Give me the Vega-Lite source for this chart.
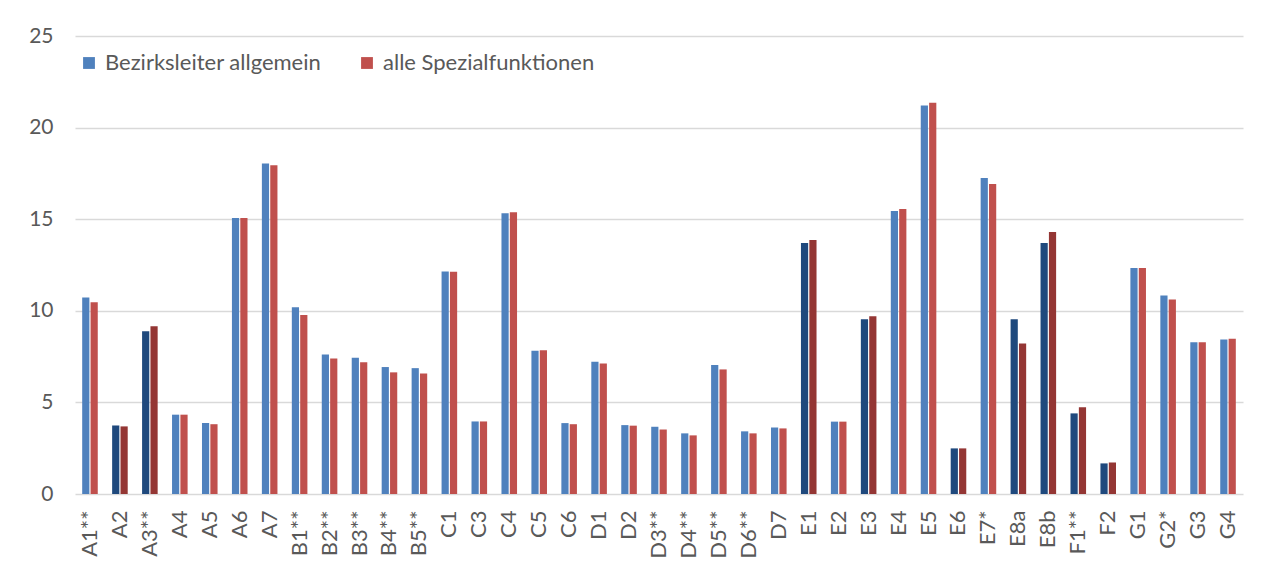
{
  "$schema": "https://vega.github.io/schema/vega-lite/v6.json",
  "autosize": {"type": "none"},
  "width": 1168,
  "height": 458,
  "padding": {"left": 75, "top": 36, "right": 27, "bottom": 94},
  "background": "white",
  "config": {
    "font": "Lato",
    "view": {"stroke": null},
    "axis": {"labelFont": "Lato", "labelColor": "#595959", "labelFontSize": 22}
  },
  "data": {
    "values": [
      {"kat": "A1**", "reihe": "Bezirksleiter allgemein", "farbe": "Bezirksleiter allgemein", "wert": 10.72},
      {"kat": "A1**", "reihe": "alle Spezialfunktionen", "farbe": "alle Spezialfunktionen", "wert": 10.46},
      {"kat": "A2", "reihe": "Bezirksleiter allgemein", "farbe": "Bezirksleiter allgemein (dunkel)", "wert": 3.74},
      {"kat": "A2", "reihe": "alle Spezialfunktionen", "farbe": "alle Spezialfunktionen (dunkel)", "wert": 3.69},
      {"kat": "A3**", "reihe": "Bezirksleiter allgemein", "farbe": "Bezirksleiter allgemein (dunkel)", "wert": 8.88},
      {"kat": "A3**", "reihe": "alle Spezialfunktionen", "farbe": "alle Spezialfunktionen (dunkel)", "wert": 9.15},
      {"kat": "A4", "reihe": "Bezirksleiter allgemein", "farbe": "Bezirksleiter allgemein", "wert": 4.33},
      {"kat": "A4", "reihe": "alle Spezialfunktionen", "farbe": "alle Spezialfunktionen", "wert": 4.33},
      {"kat": "A5", "reihe": "Bezirksleiter allgemein", "farbe": "Bezirksleiter allgemein", "wert": 3.87},
      {"kat": "A5", "reihe": "alle Spezialfunktionen", "farbe": "alle Spezialfunktionen", "wert": 3.81},
      {"kat": "A6", "reihe": "Bezirksleiter allgemein", "farbe": "Bezirksleiter allgemein", "wert": 15.07},
      {"kat": "A6", "reihe": "alle Spezialfunktionen", "farbe": "alle Spezialfunktionen", "wert": 15.06},
      {"kat": "A7", "reihe": "Bezirksleiter allgemein", "farbe": "Bezirksleiter allgemein", "wert": 18.04},
      {"kat": "A7", "reihe": "alle Spezialfunktionen", "farbe": "alle Spezialfunktionen", "wert": 17.95},
      {"kat": "B1**", "reihe": "Bezirksleiter allgemein", "farbe": "Bezirksleiter allgemein", "wert": 10.19},
      {"kat": "B1**", "reihe": "alle Spezialfunktionen", "farbe": "alle Spezialfunktionen", "wert": 9.77},
      {"kat": "B2**", "reihe": "Bezirksleiter allgemein", "farbe": "Bezirksleiter allgemein", "wert": 7.62},
      {"kat": "B2**", "reihe": "alle Spezialfunktionen", "farbe": "alle Spezialfunktionen", "wert": 7.39},
      {"kat": "B3**", "reihe": "Bezirksleiter allgemein", "farbe": "Bezirksleiter allgemein", "wert": 7.44},
      {"kat": "B3**", "reihe": "alle Spezialfunktionen", "farbe": "alle Spezialfunktionen", "wert": 7.19},
      {"kat": "B4**", "reihe": "Bezirksleiter allgemein", "farbe": "Bezirksleiter allgemein", "wert": 6.93},
      {"kat": "B4**", "reihe": "alle Spezialfunktionen", "farbe": "alle Spezialfunktionen", "wert": 6.64},
      {"kat": "B5**", "reihe": "Bezirksleiter allgemein", "farbe": "Bezirksleiter allgemein", "wert": 6.87},
      {"kat": "B5**", "reihe": "alle Spezialfunktionen", "farbe": "alle Spezialfunktionen", "wert": 6.58},
      {"kat": "C1", "reihe": "Bezirksleiter allgemein", "farbe": "Bezirksleiter allgemein", "wert": 12.14},
      {"kat": "C1", "reihe": "alle Spezialfunktionen", "farbe": "alle Spezialfunktionen", "wert": 12.13},
      {"kat": "C3", "reihe": "Bezirksleiter allgemein", "farbe": "Bezirksleiter allgemein", "wert": 3.96},
      {"kat": "C3", "reihe": "alle Spezialfunktionen", "farbe": "alle Spezialfunktionen", "wert": 3.96},
      {"kat": "C4", "reihe": "Bezirksleiter allgemein", "farbe": "Bezirksleiter allgemein", "wert": 15.33},
      {"kat": "C4", "reihe": "alle Spezialfunktionen", "farbe": "alle Spezialfunktionen", "wert": 15.38},
      {"kat": "C5", "reihe": "Bezirksleiter allgemein", "farbe": "Bezirksleiter allgemein", "wert": 7.82},
      {"kat": "C5", "reihe": "alle Spezialfunktionen", "farbe": "alle Spezialfunktionen", "wert": 7.84},
      {"kat": "C6", "reihe": "Bezirksleiter allgemein", "farbe": "Bezirksleiter allgemein", "wert": 3.87},
      {"kat": "C6", "reihe": "alle Spezialfunktionen", "farbe": "alle Spezialfunktionen", "wert": 3.81},
      {"kat": "D1", "reihe": "Bezirksleiter allgemein", "farbe": "Bezirksleiter allgemein", "wert": 7.22},
      {"kat": "D1", "reihe": "alle Spezialfunktionen", "farbe": "alle Spezialfunktionen", "wert": 7.13},
      {"kat": "D2", "reihe": "Bezirksleiter allgemein", "farbe": "Bezirksleiter allgemein", "wert": 3.76},
      {"kat": "D2", "reihe": "alle Spezialfunktionen", "farbe": "alle Spezialfunktionen", "wert": 3.73},
      {"kat": "D3**", "reihe": "Bezirksleiter allgemein", "farbe": "Bezirksleiter allgemein", "wert": 3.67},
      {"kat": "D3**", "reihe": "alle Spezialfunktionen", "farbe": "alle Spezialfunktionen", "wert": 3.52},
      {"kat": "D4**", "reihe": "Bezirksleiter allgemein", "farbe": "Bezirksleiter allgemein", "wert": 3.31},
      {"kat": "D4**", "reihe": "alle Spezialfunktionen", "farbe": "alle Spezialfunktionen", "wert": 3.2},
      {"kat": "D5**", "reihe": "Bezirksleiter allgemein", "farbe": "Bezirksleiter allgemein", "wert": 7.04},
      {"kat": "D5**", "reihe": "alle Spezialfunktionen", "farbe": "alle Spezialfunktionen", "wert": 6.8},
      {"kat": "D6**", "reihe": "Bezirksleiter allgemein", "farbe": "Bezirksleiter allgemein", "wert": 3.42},
      {"kat": "D6**", "reihe": "alle Spezialfunktionen", "farbe": "alle Spezialfunktionen", "wert": 3.31},
      {"kat": "D7", "reihe": "Bezirksleiter allgemein", "farbe": "Bezirksleiter allgemein", "wert": 3.63},
      {"kat": "D7", "reihe": "alle Spezialfunktionen", "farbe": "alle Spezialfunktionen", "wert": 3.58},
      {"kat": "E1", "reihe": "Bezirksleiter allgemein", "farbe": "Bezirksleiter allgemein (dunkel)", "wert": 13.7},
      {"kat": "E1", "reihe": "alle Spezialfunktionen", "farbe": "alle Spezialfunktionen (dunkel)", "wert": 13.86},
      {"kat": "E2", "reihe": "Bezirksleiter allgemein", "farbe": "Bezirksleiter allgemein", "wert": 3.95},
      {"kat": "E2", "reihe": "alle Spezialfunktionen", "farbe": "alle Spezialfunktionen", "wert": 3.95},
      {"kat": "E3", "reihe": "Bezirksleiter allgemein", "farbe": "Bezirksleiter allgemein (dunkel)", "wert": 9.54},
      {"kat": "E3", "reihe": "alle Spezialfunktionen", "farbe": "alle Spezialfunktionen (dunkel)", "wert": 9.7},
      {"kat": "E4", "reihe": "Bezirksleiter allgemein", "farbe": "Bezirksleiter allgemein", "wert": 15.45},
      {"kat": "E4", "reihe": "alle Spezialfunktionen", "farbe": "alle Spezialfunktionen", "wert": 15.56},
      {"kat": "E5", "reihe": "Bezirksleiter allgemein", "farbe": "Bezirksleiter allgemein", "wert": 21.21},
      {"kat": "E5", "reihe": "alle Spezialfunktionen", "farbe": "alle Spezialfunktionen", "wert": 21.36},
      {"kat": "E6", "reihe": "Bezirksleiter allgemein", "farbe": "Bezirksleiter allgemein (dunkel)", "wert": 2.49},
      {"kat": "E6", "reihe": "alle Spezialfunktionen", "farbe": "alle Spezialfunktionen (dunkel)", "wert": 2.49},
      {"kat": "E7*", "reihe": "Bezirksleiter allgemein", "farbe": "Bezirksleiter allgemein", "wert": 17.25},
      {"kat": "E7*", "reihe": "alle Spezialfunktionen", "farbe": "alle Spezialfunktionen", "wert": 16.92},
      {"kat": "E8a", "reihe": "Bezirksleiter allgemein", "farbe": "Bezirksleiter allgemein (dunkel)", "wert": 9.54},
      {"kat": "E8a", "reihe": "alle Spezialfunktionen", "farbe": "alle Spezialfunktionen (dunkel)", "wert": 8.22},
      {"kat": "E8b", "reihe": "Bezirksleiter allgemein", "farbe": "Bezirksleiter allgemein (dunkel)", "wert": 13.7},
      {"kat": "E8b", "reihe": "alle Spezialfunktionen", "farbe": "alle Spezialfunktionen (dunkel)", "wert": 14.3},
      {"kat": "F1**", "reihe": "Bezirksleiter allgemein", "farbe": "Bezirksleiter allgemein (dunkel)", "wert": 4.4},
      {"kat": "F1**", "reihe": "alle Spezialfunktionen", "farbe": "alle Spezialfunktionen (dunkel)", "wert": 4.73},
      {"kat": "F2", "reihe": "Bezirksleiter allgemein", "farbe": "Bezirksleiter allgemein (dunkel)", "wert": 1.67},
      {"kat": "F2", "reihe": "alle Spezialfunktionen", "farbe": "alle Spezialfunktionen (dunkel)", "wert": 1.72},
      {"kat": "G1", "reihe": "Bezirksleiter allgemein", "farbe": "Bezirksleiter allgemein", "wert": 12.34},
      {"kat": "G1", "reihe": "alle Spezialfunktionen", "farbe": "alle Spezialfunktionen", "wert": 12.34},
      {"kat": "G2*", "reihe": "Bezirksleiter allgemein", "farbe": "Bezirksleiter allgemein", "wert": 10.83},
      {"kat": "G2*", "reihe": "alle Spezialfunktionen", "farbe": "alle Spezialfunktionen", "wert": 10.61},
      {"kat": "G3", "reihe": "Bezirksleiter allgemein", "farbe": "Bezirksleiter allgemein", "wert": 8.28},
      {"kat": "G3", "reihe": "alle Spezialfunktionen", "farbe": "alle Spezialfunktionen", "wert": 8.28},
      {"kat": "G4", "reihe": "Bezirksleiter allgemein", "farbe": "Bezirksleiter allgemein", "wert": 8.44},
      {"kat": "G4", "reihe": "alle Spezialfunktionen", "farbe": "alle Spezialfunktionen", "wert": 8.48}
    ]
  },
  "mark": {"type": "bar"},
  "encoding": {
    "x": {
      "field": "kat",
      "type": "nominal",
      "sort": null,
      "title": null,
      "scale": {"paddingInner": 0.48, "paddingOuter": 0.24},
      "axis": {
        "labelAngle": -90,
        "labelAlign": "right",
        "labelBaseline": "middle",
        "labelPadding": 16,
        "domain": false,
        "ticks": false
      }
    },
    "xOffset": {
      "field": "reihe",
      "type": "nominal",
      "sort": ["Bezirksleiter allgemein", "alle Spezialfunktionen"],
      "scale": {"paddingInner": 0.14}
    },
    "y": {
      "field": "wert",
      "type": "quantitative",
      "title": null,
      "scale": {"domain": [0, 25], "nice": false},
      "axis": {
        "values": [0, 5, 10, 15, 20, 25],
        "domain": false,
        "ticks": false,
        "labelFontSize": 21,
        "labelPadding": 22,
        "gridColor": "#D9D9D9",
        "gridWidth": 1.5
      }
    },
    "color": {
      "field": "farbe",
      "type": "nominal",
      "scale": {
        "domain": ["Bezirksleiter allgemein", "alle Spezialfunktionen", "Bezirksleiter allgemein (dunkel)", "alle Spezialfunktionen (dunkel)"],
        "range": ["#4F81BD", "#C0504D", "#1F497D", "#943634"]
      },
      "legend": {
        "title": null,
        "values": ["Bezirksleiter allgemein", "alle Spezialfunktionen"],
        "orient": "none",
        "legendX": 3,
        "legendY": 16,
        "direction": "horizontal",
        "symbolType": "square",
        "symbolSize": 140,
        "symbolStrokeWidth": 0,
        "labelFont": "Lato",
        "labelFontSize": 22,
        "labelColor": "#595959",
        "labelOffset": 5,
        "labelLimit": 0,
        "columnPadding": 34,
        "padding": 0
      }
    }
  }
}
